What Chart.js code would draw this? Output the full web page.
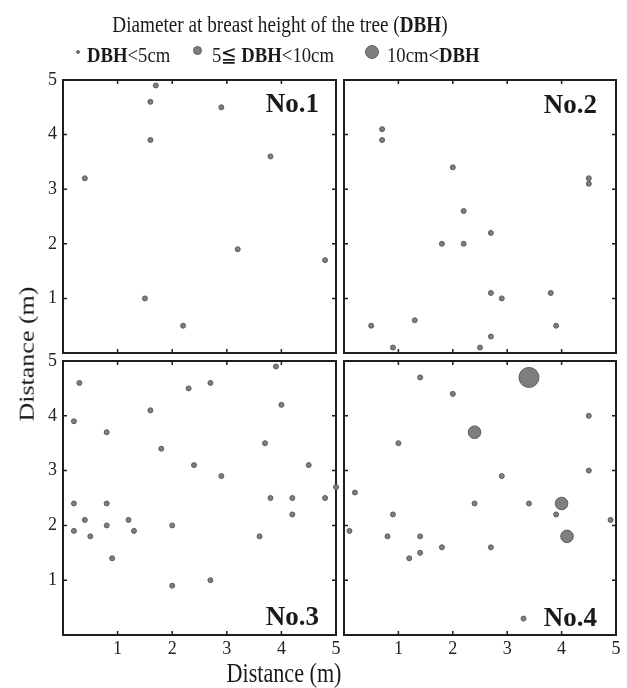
<!DOCTYPE html>
<html>
<head>
<meta charset="utf-8">
<script src="https://cdn.jsdelivr.net/npm/chart.js@4.4.1/dist/chart.umd.min.js"></script>
<style>
  body { margin: 0; background: #fff; }
  #wrap { position: relative; width: 627px; height: 688px; overflow: hidden;
          font-family: "Liberation Serif", "Times New Roman", serif; color: #1a1a1a; }
  canvas { position: absolute; left: 0; top: 0; }
  .txt { position: absolute; white-space: nowrap; line-height: 1; }
  .dot { position: absolute; border-radius: 50%; background: #7e7e7e; border: 1px solid #5e5e5e; box-sizing: border-box; }
</style>
</head>
<body>
<div id="wrap">
  <canvas id="p1" width="627" height="688"></canvas>
  <canvas id="p2" width="627" height="688"></canvas>
  <canvas id="p3" width="627" height="688"></canvas>
  <canvas id="p4" width="627" height="688"></canvas>

  <div class="txt" style="left:0;width:560px;top:12px;font-size:24px;text-align:center;transform:scaleX(0.8);">Diameter at breast height of the tree (<b>DBH</b>)</div>

  <div class="dot" style="left:76px;top:50px;width:4px;height:4px;"></div>
  <div class="txt" style="left:87px;top:44px;font-size:22px;transform:scaleX(0.85);transform-origin:left;"><b>DBH</b>&lt;5cm</div>
  <div class="dot" style="left:193px;top:46px;width:9px;height:9px;"></div>
  <div class="txt" style="left:212px;top:44px;font-size:22px;transform:scaleX(0.85);transform-origin:left;">5≦ <b>DBH</b>&lt;10cm</div>
  <div class="dot" style="left:365px;top:45px;width:14px;height:14px;"></div>
  <div class="txt" style="left:387px;top:44px;font-size:22px;transform:scaleX(0.85);transform-origin:left;">10cm&lt;<b>DBH</b></div>

  <div class="txt" style="left:119px;width:200px;top:90px;font-size:27px;font-weight:bold;text-align:right;">No.1</div>
  <div class="txt" style="left:397px;width:200px;top:91px;font-size:27px;font-weight:bold;text-align:right;">No.2</div>
  <div class="txt" style="left:119px;width:200px;top:603px;font-size:27px;font-weight:bold;text-align:right;">No.3</div>
  <div class="txt" style="left:397px;width:200px;top:604px;font-size:27px;font-weight:bold;text-align:right;">No.4</div>

  <div class="txt" style="left:0;width:568px;top:660px;font-size:27px;text-align:center;transform:scaleX(0.82);">Distance (m)</div>
  <div class="txt" style="left:-123px;width:300px;top:341px;font-size:26px;text-align:center;transform:rotate(-90deg) scaleY(0.82);">Distance (m)</div>
</div>

<script>
// axis ticks (m)
const tickValues = [0, 1, 2, 3, 4, 5];

// No.1
const p1X = [1.7, 1.6, 2.9, 1.6, 3.8, 0.4, 3.2, 4.8, 1.5, 2.2];
const p1Y = [4.9, 4.6, 4.5, 3.9, 3.6, 3.2, 1.9, 1.7, 1.0, 0.5];

// No.2
const p2X = [0.7, 0.7, 2.0, 4.5, 4.5, 2.2, 2.7, 1.8, 2.2, 2.7, 2.9, 3.8, 0.5, 1.3, 3.9, 2.7, 0.9, 2.5];
const p2Y = [4.1, 3.9, 3.4, 3.2, 3.1, 2.6, 2.2, 2.0, 2.0, 1.1, 1.0, 1.1, 0.5, 0.6, 0.5, 0.3, 0.1, 0.1];

// No.3
const p3X = [0.3, 0.2, 0.8, 1.6, 2.3, 2.7, 3.9, 4.0, 1.8, 3.7, 2.4, 4.5, 2.9, 5.0, 0.2, 0.8,
             3.8, 4.2, 4.8, 0.4, 1.2, 4.2, 0.2, 0.8, 1.3, 2.0, 0.5, 3.6, 0.9, 2.7, 2.0];
const p3Y = [4.6, 3.9, 3.7, 4.1, 4.5, 4.6, 4.9, 4.2, 3.4, 3.5, 3.1, 3.1, 2.9, 2.7, 2.4, 2.4,
             2.5, 2.5, 2.5, 2.1, 2.1, 2.2, 1.9, 2.0, 1.9, 2.0, 1.8, 1.8, 1.4, 1.0, 0.9];

// No.4  (class: 0 = DBH<5cm, 1 = 5-10cm, 2 = >10cm)
const p4X = [1.4, 2.0, 3.4, 4.5, 2.4, 1.0, 4.5, 2.9, 0.2, 2.4, 3.4, 4.0, 0.9, 3.9, 4.9, 0.1,
             0.8, 1.4, 4.1, 1.8, 2.7, 1.4, 1.2, 3.3];
const p4Y = [4.7, 4.4, 4.7, 4.0, 3.7, 3.5, 3.0, 2.9, 2.6, 2.4, 2.4, 2.4, 2.2, 2.2, 2.1, 1.9,
             1.8, 1.8, 1.8, 1.6, 1.6, 1.5, 1.4, 0.3];
const p4Class = [0, 0, 2, 0, 1, 0, 0, 0, 0, 0, 0, 1, 0, 0, 0, 0, 0, 0, 1, 0, 0, 0, 0, 0];

const classRadius = [2.5, 6.3, 10];
const W = 627, H = 688;
const tickFont = { family: "'Liberation Serif', 'Times New Roman', serif", size: 18 };

// frame with inward tick marks on all four sides
const framePlugin = {
  id: "frame",
  beforeDatasetsDraw(chart) {
    const { ctx, chartArea: a, scales } = chart;
    ctx.save();
    ctx.strokeStyle = "#1e1e1e";
    ctx.lineWidth = 2;
    ctx.strokeRect(a.left, a.top, a.right - a.left, a.bottom - a.top);
    ctx.lineWidth = 1.5;
    ctx.beginPath();
    tickValues.slice(1, -1).forEach(v => {
      const px = scales.x.getPixelForValue(v);
      const py = scales.y.getPixelForValue(v);
      ctx.moveTo(px, a.bottom); ctx.lineTo(px, a.bottom - 4);
      ctx.moveTo(px, a.top); ctx.lineTo(px, a.top + 4);
      ctx.moveTo(a.left, py); ctx.lineTo(a.left + 4, py);
      ctx.moveTo(a.right, py); ctx.lineTo(a.right - 4, py);
    });
    ctx.stroke();
    ctx.restore();
  }
};

function makePanel(id, xs, ys, radii, area, showX, showY) {
  const yW = showY ? 20 : 0;
  const xH = showX ? 30 : 0;
  const pts = xs.map((x, i) => ({ x: x, y: ys[i] }));
  new Chart(document.getElementById(id), {
    type: "scatter",
    data: {
      datasets: [{
        data: pts,
        pointRadius: radii,
        pointHoverRadius: radii,
        backgroundColor: "#7e7e7e",
        borderColor: "#5c5c5c",
        borderWidth: 1,
        clip: false
      }]
    },
    options: {
      responsive: false,
      animation: false,
      events: [],
      layout: {
        autoPadding: false,
        padding: { left: area.left - yW, top: area.top, right: W - area.right, bottom: H - area.bottom - xH }
      },
      plugins: { legend: { display: false }, tooltip: { enabled: false } },
      scales: {
        x: {
          type: "linear", min: 0, max: 5, display: showX,
          grid: { display: false, drawTicks: false },
          border: { display: false },
          ticks: { stepSize: 1, font: tickFont, color: "#222", padding: 3, maxRotation: 0, autoSkip: false,
                   callback: v => (v === 0 ? "" : v) },
          afterFit: s => { s.height = xH; }
        },
        y: {
          type: "linear", min: 0, max: 5, display: showY,
          grid: { display: false, drawTicks: false },
          border: { display: false },
          ticks: { stepSize: 1, font: tickFont, color: "#222", padding: 6, autoSkip: false,
                   callback: v => (v === 0 ? "" : v) },
          afterFit: s => { s.width = yW; }
        }
      }
    },
    plugins: [framePlugin]
  });
}

const small = n => new Array(n).fill(classRadius[0]);

makePanel("p1", p1X, p1Y, small(p1X.length), { left: 63, top: 80, right: 336, bottom: 353 }, false, true);
makePanel("p2", p2X, p2Y, small(p2X.length), { left: 344, top: 80, right: 616, bottom: 353 }, false, false);
makePanel("p3", p3X, p3Y, small(p3X.length), { left: 63, top: 361, right: 336, bottom: 635 }, true, true);
makePanel("p4", p4X, p4Y, p4Class.map(c => classRadius[c]), { left: 344, top: 361, right: 616, bottom: 635 }, true, false);
</script>
</body>
</html>
